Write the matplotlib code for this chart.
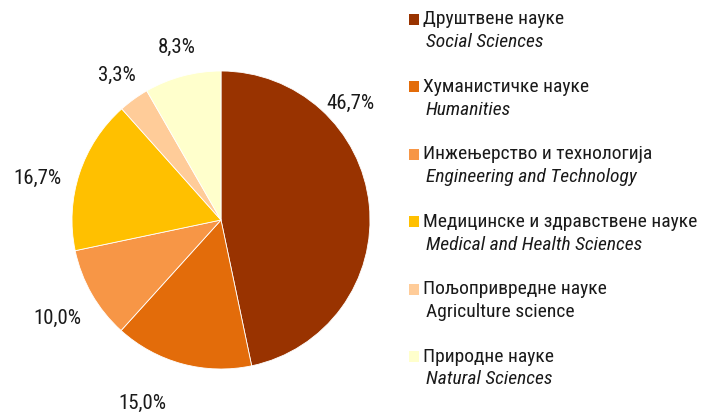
import matplotlib
matplotlib.use("Agg")
import matplotlib.pyplot as plt
from matplotlib.patches import Rectangle

# data
shares = [46.7, 15.0, 10.0, 16.7, 3.3, 8.3]
colors = ["#993300", "#E36C0A", "#F79646", "#FFC000", "#FFCC99", "#FFFFCC"]
names_sr = ["Друштвене науке", "Хуманистичке науке", "Инжењерство и технологија",
            "Медицинске и здравствене науке", "Пољопривредне науке", "Природне науке"]
names_en = ["Social Sciences", "Humanities", "Engineering and Technology",
            "Medical and Health Sciences", "Agriculture science", "Natural Sciences"]
en_italic = [True, True, True, True, False, True]

# label offsets from pie centre, in radius units
label_pos = [(0.87, 0.78), (-0.53, -1.23), (-1.10, -0.66),
             (-1.23, 0.28), (-0.70, 0.97), (-0.30, 1.16)]

plt.rcParams["font.family"] = ["Roboto Condensed", "DejaVu Sans"]
txt_color = "#1a1a1a"

fig = plt.figure(figsize=(7.06, 4.12), dpi=100)
ax = fig.add_axes([0, 0, 1, 1])

cx, cy, r = 221, 412 - 220, 149
ax.pie(shares, colors=colors, startangle=90, counterclock=False,
       center=(cx, cy), radius=r,
       wedgeprops=dict(edgecolor="white", linewidth=0.6))

for v, (dx, dy) in zip(shares, label_pos):
    ax.text(cx + dx * r, cy + dy * r, f"{v:.1f}%".replace(".", ","),
            ha="center", va="center", fontsize=15, color=txt_color)

# legend drawn by hand (two lines per entry)
y0, step = 412 - 19, 67.5
for i, (sr, en) in enumerate(zip(names_sr, names_en)):
    y = y0 - i * step
    ax.add_patch(Rectangle((409, y - 5.5), 10, 11, facecolor=colors[i],
                           edgecolor="none"))
    ax.text(423, y, sr, ha="left", va="center", fontsize=14, color=txt_color)
    ax.text(426, y - 23, en, ha="left", va="center", fontsize=14,
            color=txt_color, style="italic" if en_italic[i] else "normal")

ax.set_xlim(0, 706)
ax.set_ylim(0, 412)
ax.set_aspect("equal")
ax.set_axis_off()

fig.savefig("out.png", dpi=100)
